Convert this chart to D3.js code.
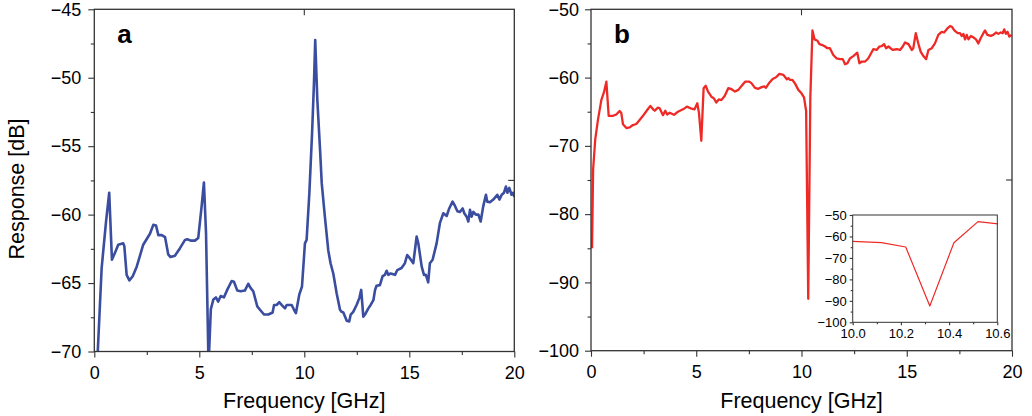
<!DOCTYPE html>
<html>
<head>
<meta charset="utf-8">
<script src="https://cdn.jsdelivr.net/npm/d3@7"></script>
<style>
  body { margin: 0; background: #fff; }
  svg { font-family: "Liberation Sans", Arial, sans-serif; }
</style>
</head>
<body>
<svg id="chart" width="1032" height="416"></svg>
<script>
// panel a : response of the first device
var freqA = [0.12, 0.35, 0.56, 0.71, 0.84, 0.98, 1.14, 1.38, 1.43, 1.54,
             1.67, 1.83, 2.02, 2.33, 2.65, 2.81, 2.94, 3.05, 3.21, 3.37,
             3.52, 3.63, 3.84, 4.08, 4.32, 4.43, 4.59, 4.79, 4.95, 5.11,
             5.22, 5.32, 5.44, 5.55, 5.67, 5.79, 5.9, 6.02, 6.17, 6.33,
             6.54, 6.65, 6.81, 6.97, 7.17, 7.33, 7.44, 7.57, 7.76, 7.89,
             8.08, 8.29, 8.49, 8.56, 8.68, 8.81, 8.92, 9.08, 9.16, 9.4,
             9.51, 9.6, 9.76, 9.89, 10.03, 10.11, 10.24, 10.37, 10.46, 10.52,
             10.62, 10.75, 10.83, 10.98, 11.14, 11.25, 11.38, 11.54, 11.7, 11.78,
             11.86, 12.02, 12.14, 12.21, 12.33, 12.49, 12.62, 12.71, 12.81, 12.89,
             13.05, 13.16, 13.29, 13.37, 13.44, 13.6, 13.73, 13.84, 13.92, 14.0,
             14.11, 14.32, 14.43, 14.63, 14.79, 14.9, 15.03, 15.19, 15.35, 15.43,
             15.59, 15.7, 15.79, 15.9, 15.98, 16.11, 16.3, 16.46, 16.62, 16.78,
             16.9, 17.06, 17.17, 17.29, 17.41, 17.54, 17.62, 17.73, 17.81, 17.89,
             17.97, 18.05, 18.17, 18.29, 18.4, 18.52, 18.65, 18.71, 18.84, 19.0,
             19.19, 19.29, 19.4, 19.51, 19.6, 19.67, 19.76, 19.87, 19.95, 20.0];
var respA = [-71.5, -63.9, -60.5, -58.4, -63.3, -62.8, -62.2, -62.1, -62.3, -64.4,
             -64.8, -64.5, -63.8, -62.2, -61.4, -60.75, -60.8, -61.5, -61.5, -61.65,
             -62.9, -63.1, -63.0, -62.45, -61.85, -61.8, -61.9, -61.9, -61.7, -59.4,
             -57.65, -61.35, -71.0, -66.9, -66.2, -66.05, -66.35, -65.95, -66.05, -65.5,
             -64.85, -64.9, -65.55, -65.6, -65.55, -65.05, -65.35, -65.6, -66.7, -66.95,
             -67.3, -67.3, -67.15, -66.6, -66.6, -66.4, -66.6, -66.85, -66.6, -66.6,
             -66.95, -67.2, -65.85, -65.25, -62.1, -61.85, -58.45, -54.05, -50.4, -47.25,
             -51.6, -55.25, -57.7, -60.15, -62.6, -63.55, -64.3, -65.75, -66.95, -67.1,
             -67.15, -67.75, -67.8, -67.3, -67.1, -66.6, -66.1, -65.5, -67.45, -67.3,
             -66.85, -66.6, -66.25, -65.5, -65.2, -65.15, -64.5, -64.4, -64.1, -64.4,
             -64.3, -64.4, -64.05, -63.9, -63.55, -62.95, -63.2, -63.55, -61.6, -62.1,
             -63.8, -64.4, -64.4, -64.95, -63.55, -63.3, -62.1, -60.6, -59.9, -60.1,
             -59.55, -59.05, -59.35, -59.75, -59.8, -59.55, -59.9, -60.15, -60.5, -59.65,
             -60.15, -59.8, -60.0, -60.0, -60.5, -59.4, -58.55, -59.05, -59.1, -58.9,
             -58.55, -58.9, -58.55, -58.4, -57.95, -58.4, -58.05, -58.55, -58.4, -58.7];

// panel b : response of the second device (inset zooms on the notch)
var freqB = [0.05, 0.1, 0.2, 0.33, 0.49, 0.62, 0.73, 0.84, 1.05, 1.2,
             1.36, 1.44, 1.52, 1.68, 1.84, 1.99, 2.15, 2.31, 2.47, 2.67,
             2.82, 2.95, 3.03, 3.18, 3.26, 3.42, 3.53, 3.62, 3.74, 3.94,
             4.13, 4.37, 4.56, 4.73, 4.92, 5.05, 5.13, 5.24, 5.35, 5.45,
             5.56, 5.72, 5.84, 5.95, 6.07, 6.19, 6.35, 6.52, 6.68, 6.84,
             7.0, 7.16, 7.32, 7.52, 7.63, 7.79, 7.95, 8.11, 8.23, 8.31,
             8.47, 8.63, 8.79, 8.95, 9.14, 9.3, 9.38, 9.46, 9.57, 9.69,
             9.85, 10.0, 10.12, 10.22, 10.32, 10.42, 10.52, 10.62, 10.76, 10.85,
             10.96, 11.12, 11.23, 11.35, 11.51, 11.67, 11.83, 11.96, 12.07, 12.18,
             12.3, 12.46, 12.65, 12.75, 12.86, 13.02, 13.17, 13.41, 13.57, 13.7,
             13.81, 13.92, 14.02, 14.13, 14.33, 14.52, 14.68, 14.81, 14.92, 15.08,
             15.24, 15.31, 15.43, 15.55, 15.66, 15.79, 15.92, 16.03, 16.19, 16.34,
             16.5, 16.66, 16.77, 16.93, 17.06, 17.14, 17.26, 17.42, 17.53, 17.61,
             17.69, 17.77, 17.85, 17.93, 18.05, 18.16, 18.29, 18.4, 18.51, 18.64,
             18.72, 18.83, 18.99, 19.11, 19.24, 19.35, 19.46, 19.56, 19.63, 19.71,
             19.79, 19.87, 19.98];
var respB = [-85.0, -73.5, -69.1, -66.2, -63.3, -62.1, -60.6, -65.6, -65.6, -65.4,
             -64.9, -65.2, -66.85, -67.4, -67.3, -66.95, -66.8, -66.2, -65.6, -64.75,
             -64.15, -64.65, -64.85, -64.4, -64.5, -65.5, -64.85, -65.4, -65.15, -65.45,
             -65.0, -64.65, -64.25, -64.5, -64.65, -63.75, -65.2, -69.25, -61.55, -61.2,
             -62.05, -62.8, -63.05, -63.65, -63.2, -63.3, -62.7, -61.55, -61.7, -62.05,
             -61.8, -61.2, -60.6, -60.6, -60.85, -61.5, -61.65, -61.4, -61.3, -61.5,
             -60.75, -60.2, -59.95, -59.45, -59.6, -60.25, -60.1, -60.35, -60.35, -60.85,
             -61.8, -62.3, -62.9, -64.9, -92.4, -62.9, -53.1, -54.4, -54.6, -55.1,
             -55.2, -55.45, -55.7, -55.7, -56.7, -57.2, -57.3, -57.3, -58.05, -57.9,
             -57.2, -56.85, -56.35, -57.9, -57.65, -57.65, -57.2, -55.85, -55.95, -55.45,
             -55.4, -55.1, -55.7, -55.45, -55.95, -55.85, -55.95, -55.45, -54.85, -55.1,
             -55.95, -55.7, -53.5, -55.0, -56.2, -56.85, -57.3, -55.95, -55.7, -55.0,
             -53.75, -53.3, -53.4, -52.8, -52.45, -52.55, -53.1, -53.5, -53.5, -53.9,
             -53.6, -54.4, -53.75, -54.4, -53.9, -54.1, -54.4, -55.0, -54.25, -53.5,
             -53.1, -53.75, -53.9, -53.75, -53.4, -53.6, -53.4, -53.5, -52.95, -53.6,
             -53.3, -54.0, -53.75];

var freqTicks = [0, 5, 10, 15, 20];
var freqMinor = [2.5, 7.5, 12.5, 17.5];
var respTicksA = [-70, -65, -60, -55, -50, -45];
var respMinorA = [-67.5, -62.5, -57.5, -52.5, -47.5];
var respTicksB = [-100, -90, -80, -70, -60, -50];
var respMinorB = [-95, -85, -75, -65, -55];
var insetFreqTicks = [10.0, 10.2, 10.4, 10.6];
var insetFreqMinor = [10.1, 10.3, 10.5];
var insetRespTicks = [-100, -90, -80, -70, -60, -50];
var insetRespMinor = [-95, -85, -75, -65, -55];

var svg = d3.select("#chart");
var axisColor = "#333";

function styleAxis(g, fontSize) {
  g.select(".domain").remove();
  g.selectAll(".tick line").attr("stroke", axisColor).attr("stroke-width", 1.1);
  g.selectAll(".tick text").attr("fill", "#000").attr("font-size", fontSize)
    .attr("font-family", "Liberation Sans, Arial, sans-serif");
}

// one panel : frame, ticks, clipped line
var drawPanel = function(opt) {
  var x = d3.scaleLinear().domain(opt.xDomain).range([opt.left, opt.right]);
  var y = d3.scaleLinear().domain(opt.yDomain).range([opt.bottom, opt.top]);
  var g = svg.append("g");

  if (opt.fill) {
    g.append("rect").attr("x", opt.left).attr("y", opt.top)
      .attr("width", opt.right - opt.left).attr("height", opt.bottom - opt.top)
      .attr("fill", "#fff");
  }

  g.append("clipPath").attr("id", opt.id + "-clip")
    .append("rect").attr("x", opt.left).attr("y", opt.top)
    .attr("width", opt.right - opt.left).attr("height", opt.bottom - opt.top);

  var line = d3.line()
    .x(function(d) { return x(d[0]); })
    .y(function(d) { return y(d[1]); });

  var pts = opt.xs.map(function(f, i) { return [f, opt.ys[i]]; });

  g.append("path")
    .datum(pts)
    .attr("clip-path", "url(#" + opt.id + "-clip)")
    .attr("fill", "none")
    .attr("stroke", opt.color)
    .attr("stroke-width", opt.lineWidth)
    .attr("stroke-linejoin", "round")
    .attr("d", line);

  // bottom axis
  var xa = g.append("g").attr("transform", "translate(0," + opt.bottom + ")")
    .call(d3.axisBottom(x).tickValues(opt.xTicks).tickSize(opt.tick).tickSizeOuter(0)
      .tickPadding(opt.xPad).tickFormat(opt.xFormat));
  styleAxis(xa, opt.font);
  var xm = g.append("g").attr("transform", "translate(0," + opt.bottom + ")")
    .call(d3.axisBottom(x).tickValues(opt.xMinor).tickSize(opt.minorTick).tickSizeOuter(0).tickFormat(""));
  styleAxis(xm, opt.font);

  // left axis
  var ya = g.append("g").attr("transform", "translate(" + opt.left + ",0)")
    .call(d3.axisLeft(y).tickValues(opt.yTicks).tickSize(opt.tick).tickSizeOuter(0)
      .tickPadding(opt.yPad));
  styleAxis(ya, opt.font);
  var ym = g.append("g").attr("transform", "translate(" + opt.left + ",0)")
    .call(d3.axisLeft(y).tickValues(opt.yMinor).tickSize(opt.minorTick).tickSizeOuter(0).tickFormat(""));
  styleAxis(ym, opt.font);

  // mirrored axes only carry one inward tick in the middle
  if (opt.midTicks) {
    var xMid = (opt.xDomain[0] + opt.xDomain[1]) / 2;
    var yMid = (opt.yDomain[0] + opt.yDomain[1]) / 2;
    g.append("line").attr("x1", x(xMid)).attr("x2", x(xMid))
      .attr("y1", opt.top).attr("y2", opt.top + opt.tick)
      .attr("stroke", axisColor).attr("stroke-width", 1.1);
    g.append("line").attr("x1", opt.right).attr("x2", opt.right - opt.tick)
      .attr("y1", y(yMid)).attr("y2", y(yMid))
      .attr("stroke", axisColor).attr("stroke-width", 1.1);
  }

  g.append("rect").attr("x", opt.left).attr("y", opt.top)
    .attr("width", opt.right - opt.left).attr("height", opt.bottom - opt.top)
    .attr("fill", "none").attr("stroke", axisColor).attr("stroke-width", opt.frameWidth);

  if (opt.label) {
    g.append("text").attr("x", opt.left + 23).attr("y", 43)
      .attr("font-size", 26).attr("font-weight", "bold").attr("fill", "#000")
      .text(opt.label);
  }
  if (opt.xTitle) {
    g.append("text").attr("x", (opt.left + opt.right) / 2).attr("y", 408)
      .attr("text-anchor", "middle").attr("font-size", 21.5).attr("fill", "#000")
      .text(opt.xTitle);
  }
  return g;
};

var fmtInt = d3.format("d");

drawPanel({
  id: "a", left: 94.3, right: 514.3, top: 9.3, bottom: 351.5,
  xDomain: [0, 20], yDomain: [-70, -45],
  xs: freqA, ys: respA, color: "#3a4d9f", lineWidth: 2.6,
  xTicks: freqTicks, xMinor: freqMinor, yTicks: respTicksA, yMinor: respMinorA,
  xFormat: fmtInt, tick: 6, minorTick: 3.5, xPad: 8.5, yPad: 7, font: 18,
  frameWidth: 1.3, midTicks: true, label: "a", xTitle: "Frequency [GHz]"
});

drawPanel({
  id: "b", left: 591, right: 1012, top: 9.3, bottom: 350.7,
  xDomain: [0, 20], yDomain: [-100, -50],
  xs: freqB, ys: respB, color: "#ee2a27", lineWidth: 2.3,
  xTicks: freqTicks, xMinor: freqMinor, yTicks: respTicksB, yMinor: respMinorB,
  xFormat: fmtInt, tick: 6, minorTick: 3.5, xPad: 8.5, yPad: 6, font: 18,
  frameWidth: 1.3, midTicks: true, label: "b", xTitle: "Frequency [GHz]"
});

// inset: zoom on the notch near 10.3 GHz, same data as panel b
drawPanel({
  id: "inset", left: 852.7, right: 997.3, top: 215, bottom: 322.3,
  xDomain: [10.0, 10.6], yDomain: [-100, -50],
  xs: freqB, ys: respB, color: "#ee2a27", lineWidth: 1.2,
  xTicks: insetFreqTicks, xMinor: insetFreqMinor, yTicks: insetRespTicks, yMinor: insetRespMinor,
  xFormat: d3.format(".1f"), tick: 3, minorTick: 2, xPad: 3, yPad: 3, font: 13,
  frameWidth: 1, midTicks: false, fill: true
});

// y title, panel a only
svg.append("text")
  .attr("transform", "translate(23.5,189) rotate(-90)")
  .attr("text-anchor", "middle")
  .attr("font-size", 21.5)
  .attr("fill", "#000")
  .text("Response [dB]");
</script>
</body>
</html>
